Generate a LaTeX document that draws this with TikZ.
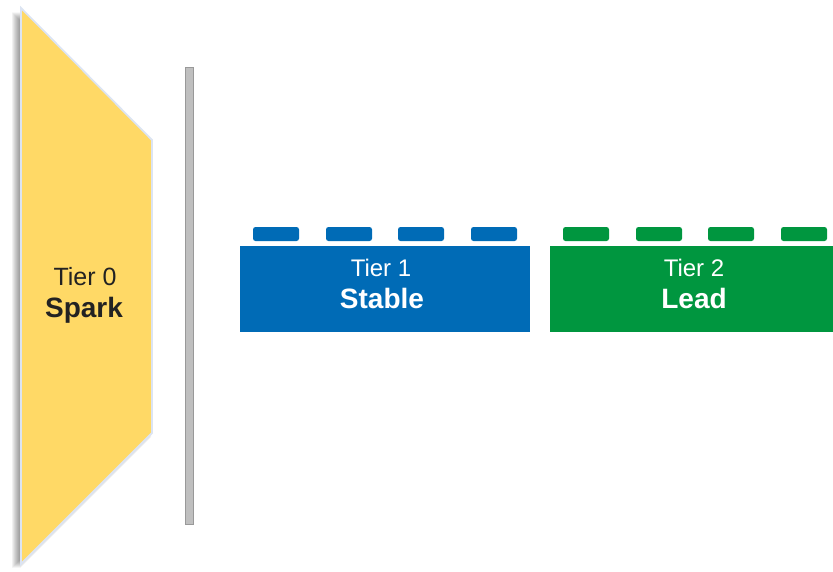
\documentclass[tikz,border=0pt]{standalone}
\usepackage{fontspec}
\setmainfont{Liberation Sans}
\definecolor{gold}{HTML}{FFD966}
\definecolor{goldedge}{HTML}{DCE4F2}
\definecolor{brickblue}{HTML}{006BB6}
\definecolor{brickgreen}{HTML}{00963F}
\definecolor{bargray}{HTML}{BFBFBF}
\definecolor{baredge}{HTML}{999999}
\definecolor{darktext}{HTML}{222222}
\tikzset{
  body/.style={rectangle, inner sep=0pt, minimum width=290pt, minimum height=86pt, draw=none},
  stud/.style={rounded corners=2.5pt},
  tiertext/.style={anchor=base, inner sep=0pt, font=\fontsize{24}{27}\selectfont},
  nametext/.style={anchor=base, inner sep=0pt, font=\fontsize{28}{32}\selectfont\bfseries},
}
\begin{document}
\begin{tikzpicture}[x=1pt,y=-1pt]
\useasboundingbox (0,0) rectangle (833,571);
\clip (0,0) rectangle (833,571);
% shadow of yellow shape
\foreach \d in {1,...,9}{
  \fill[black, opacity=0.055, shift={(-\d,4)}]
    (21,8) -- (152,140) -- (152,433) -- (21,564) -- cycle;
}
% yellow tier 0 shape
\draw[fill=gold, draw=goldedge, line width=1.8pt, line join=miter]
  (21,8) -- (152,140) -- (152,433) -- (21,564) -- cycle;
\node[tiertext, text=darktext, font=\fontsize{25}{28}\selectfont] (t0) at (85,285) {Tier 0};
\node[nametext, text=darktext] (n0) at (84,317) {Spark};
% gray bar
\draw[fill=bargray, draw=baredge, line width=1pt] (185.5,67) rectangle (193.5,524.5);
% blue brick
\node[body, fill=brickblue] (b1) at (385,289) {};
\foreach \x [count=\i] in {253,326,398,471}{
  \fill[brickblue, stud] (\x,241) -- (\x,227) -- (\x+46,227) -- (\x+46,241) -- cycle;
}
\node[tiertext, text=white] (t1) at (381,276) {Tier 1};
\node[nametext, text=white] (n1) at (382,308) {Stable};
% green brick
\node[body, fill=brickgreen] (b2) at (695,289) {};
\foreach \x [count=\i] in {563,636,708,781}{
  \fill[brickgreen, stud] (\x,241) -- (\x,227) -- (\x+46,227) -- (\x+46,241) -- cycle;
}
\node[tiertext, text=white] (t2) at (694,276) {Tier 2};
\node[nametext, text=white] (n2) at (694,308) {Lead};
\end{tikzpicture}
\end{document}
